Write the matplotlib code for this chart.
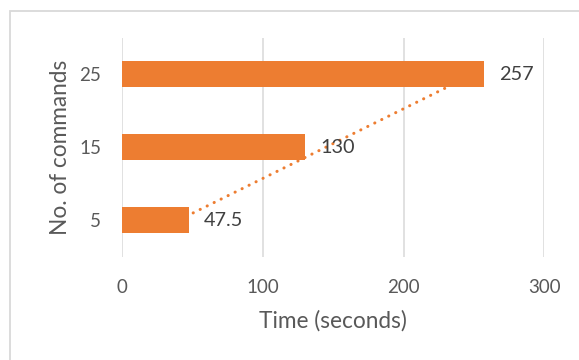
import numpy as np
import matplotlib
matplotlib.use("Agg")
import matplotlib.pyplot as plt
from matplotlib.patches import Rectangle

# data
commands = ["5", "15", "25"]
times = [47.5, 130, 257]
value_labels = ["47.5", "130", "257"]
xticks = [0, 100, 200, 300]

orange = "#ED7D31"
grid_col = "#D9D9D9"
tick_col = "#595959"
label_col = "#404040"

plt.rcParams["font.family"] = ["Lato", "DejaVu Sans"]

fig = plt.figure(figsize=(5.79, 3.6), dpi=100)
ax = fig.add_axes([122 / 579, 1 - 256.7 / 360, 422.3 / 579, 219 / 360])

pos = np.arange(len(commands))
ax.barh(pos, times, height=0.35, color=orange, zorder=2)

# linear trendline over category index, dotted
k, b = np.polyfit(pos, times, 1)
t = np.linspace(0.1, 1.82, 50)
ax.plot(k * t + b, t, color=orange, linewidth=2.2,
        linestyle=(0, (0.05, 2.5)), dash_capstyle="round", zorder=3)

for p, v, s in zip(pos, times, value_labels):
    ax.annotate(s, (v, p), xytext=(10.8, 0), textcoords="offset points",
                va="center", ha="left", fontsize=14.3, color=label_col, zorder=4)

ax.set_xlim(0, 300)
ax.set_ylim(-0.5, 2.5)
ax.set_xticks(xticks)
ax.set_yticks(pos)
ax.set_yticklabels(commands)
ax.tick_params(axis="x", length=0, pad=16, labelsize=13.5, labelcolor=tick_col)
ax.tick_params(axis="y", length=0, pad=15, labelsize=13.5, labelcolor=tick_col)
ax.grid(axis="x", color=grid_col, linewidth=1.1, zorder=0)
ax.set_axisbelow(True)
for sp in ax.spines.values():
    sp.set_visible(False)

ax.set_xlabel("Time (seconds)", fontsize=16.3, color=tick_col, va="center")
ax.xaxis.set_label_coords(0.5, (256.7 - 321) / 219)
ax.set_ylabel("No. of commands", fontsize=16.3, color=tick_col, va="center")
ax.yaxis.set_label_coords((60 - 122) / 422.3, 0.5)

# chart area border (cut off at right and bottom)
fig.patches.append(Rectangle((10 / 579, -0.1), 1.0, 1 - 10.5 / 360 + 0.1,
                             transform=fig.transFigure, fill=False,
                             edgecolor=grid_col, linewidth=1.3))

plt.savefig("out.png", dpi=100)
plt.close()
